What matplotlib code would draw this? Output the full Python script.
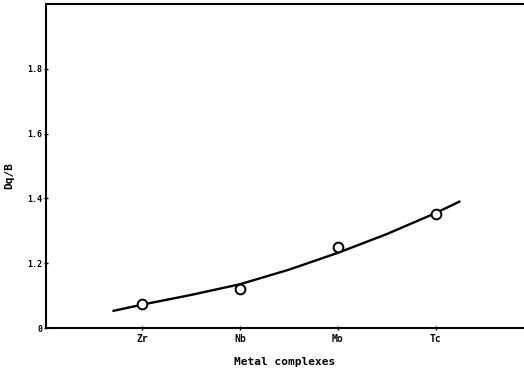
import numpy as np
import matplotlib
matplotlib.use("Agg")
import matplotlib.pyplot as plt

# metal complexes along the x axis
metals = ["Zr", "Nb", "Mo", "Tc"]
metal_pos = [1, 2, 3, 4]
dq_b = [1.074, 1.120, 1.250, 1.353]

# smooth trend line drawn through the series
curve_x = [0.71, 1.0, 1.5, 2.0, 2.5, 3.0, 3.5, 4.0, 4.24]
curve_y = [1.053, 1.072, 1.102, 1.135, 1.180, 1.232, 1.290, 1.355, 1.390]

yticks = [1.0, 1.2, 1.4, 1.6, 1.8]
ytick_labels = ["0", "1.2", "1.4", "1.6", "1.8"]

plt.rcParams["font.family"] = "DejaVu Sans Mono"
plt.rcParams["font.weight"] = "bold"

fig = plt.figure(figsize=(5.24, 3.71), dpi=100)
ax = fig.add_axes([46 / 524, 43 / 371, 1 - 46 / 524, 324 / 371])

ax.plot(curve_x, curve_y, color="black", linewidth=1.7, zorder=2)
ax.plot(metal_pos, dq_b, linestyle="none", marker="o", markersize=7,
        markerfacecolor="white", markeredgecolor="black",
        markeredgewidth=1.4, zorder=3)

ax.set_xlim(0.02, 4.9)
ax.set_ylim(1.0, 2.0)
ax.set_xticks(metal_pos)
ax.set_xticklabels(metals, fontsize=7, fontweight="bold")
ax.set_yticks(yticks)
ax.set_yticklabels(ytick_labels, fontsize=6, fontweight="bold")
ax.tick_params(direction="inout", length=3, width=1, pad=3)
ax.tick_params(axis="y", pad=1)

for side in ["left", "top", "bottom"]:
    ax.spines[side].set_linewidth(1.5)
ax.spines["right"].set_visible(False)

ax.set_xlabel("Metal complexes", fontsize=8, fontweight="bold", labelpad=9)
ax.set_ylabel("Dq/B", fontsize=8, fontweight="bold")
ax.yaxis.set_label_coords(-0.066, 0.47)

fig.savefig("out.png", dpi=100)
